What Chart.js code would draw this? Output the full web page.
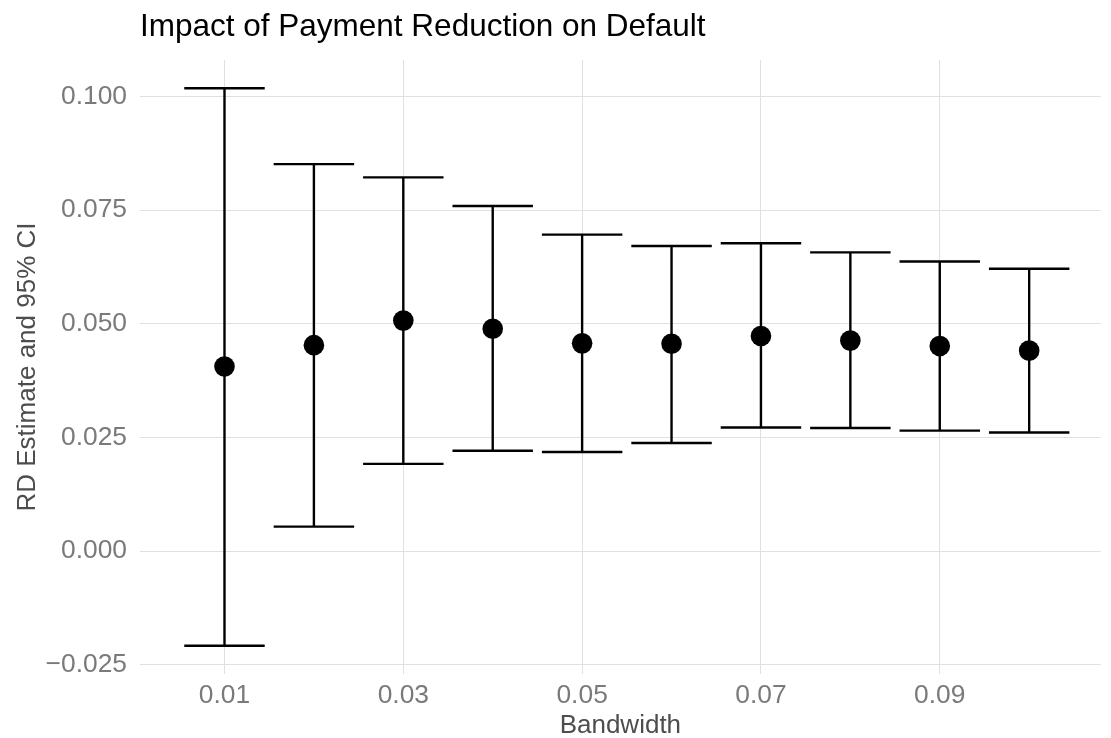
<!DOCTYPE html>
<html><head><meta charset="utf-8">
<script src="https://cdn.jsdelivr.net/npm/chart.js@4.4.1/dist/chart.umd.min.js"></script>
<style>html,body{margin:0;padding:0;background:#fff}#wrap{width:1111px;height:738px}</style>
</head><body><div id="wrap"><canvas id="c" width="1111" height="738"></canvas></div>
<script>
const chartTitle = 'Impact of Payment Reduction on Default';
const xTitle = 'Bandwidth';
const yTitle = 'RD Estimate and 95% CI';
const bandwidth = [0.01, 0.02, 0.03, 0.04, 0.05, 0.06, 0.07, 0.08, 0.09, 0.10];
const estimate  = [0.0406, 0.0453, 0.0507, 0.0489, 0.0457, 0.0456, 0.0473, 0.0463, 0.0451, 0.0441];
const ciLower   = [-0.0208, 0.0054, 0.0192, 0.0221, 0.0218, 0.0238, 0.0272, 0.0271, 0.0265, 0.0261];
const ciUpper   = [0.1018, 0.0851, 0.0822, 0.0759, 0.0696, 0.0671, 0.0677, 0.0657, 0.0637, 0.0621];
const xTickValues = [0.01, 0.03, 0.05, 0.07, 0.09];
const xTickLabels = ['0.01', '0.03', '0.05', '0.07', '0.09'];
const yTickValues = [-0.025, 0, 0.025, 0.05, 0.075, 0.1];
const yTickLabels = ['\u22120.025', '0.000', '0.025', '0.050', '0.075', '0.100'];

const capHalfWidth = 0.0045;
const FONT = "'Liberation Sans', Arial, sans-serif";
const GRID = '#e0e0e0';

const stems = [], caps = [];
bandwidth.forEach((b, i) => {
  stems.push({x: b, y: ciLower[i]}, {x: b, y: ciUpper[i]}, {x: b, y: null});
  caps.push({x: b - capHalfWidth, y: ciUpper[i]}, {x: b + capHalfWidth, y: ciUpper[i]}, {x: b, y: null},
            {x: b - capHalfWidth, y: ciLower[i]}, {x: b + capHalfWidth, y: ciLower[i]}, {x: b, y: null});
});
const points = bandwidth.map((b, i) => ({x: b, y: estimate[i]}));

new Chart(document.getElementById('c'), {
  type: 'line',
  data: {
    datasets: [
      {data: stems, borderColor: '#000', borderWidth: 2.4, pointRadius: 0, spanGaps: false, tension: 0, borderCapStyle: 'butt', order: 3},
      {data: caps, borderColor: '#000', borderWidth: 2.4, pointRadius: 0, spanGaps: false, tension: 0, borderCapStyle: 'butt', order: 2},
      {type: 'scatter', data: points, backgroundColor: '#000', borderWidth: 0, pointRadius: 10.3, pointBorderWidth: 0, order: 1}
    ]
  },
  options: {
    responsive: false,
    animation: false,
    devicePixelRatio: 1,
    layout: {padding: 0},
    plugins: {
      legend: {display: false},
      tooltip: {enabled: false},
      title: {
        display: true, text: chartTitle, align: 'start', fullSize: false,
        color: '#000', font: {family: FONT, size: 31.5, weight: 'normal', lineHeight: 1.2},
        padding: {top: 8, bottom: 14.2}
      }
    },
    scales: {
      x: {
        type: 'linear', min: 0.00055, max: 0.108,
        afterBuildTicks: s => { s.ticks = xTickValues.map(v => ({value: v})); },
        afterFit: s => { s.height = 64; },
        ticks: {callback: (v, i) => xTickLabels[i], color: '#7a7a7a', font: {family: FONT, size: 26.4}, padding: 6, maxRotation: 0, autoSkip: false},
        grid: {color: GRID, lineWidth: 1, drawTicks: false},
        border: {display: false},
        title: {display: true, text: xTitle, color: '#4d4d4d', font: {family: FONT, size: 26, lineHeight: 0.92}, padding: {top: 0, bottom: 0}}
      },
      y: {
        type: 'linear', min: -0.027, max: 0.108,
        afterBuildTicks: s => { s.ticks = yTickValues.map(v => ({value: v})); },
        afterFit: s => { s.width = 140; },
        ticks: {callback: (v, i) => yTickLabels[i], color: '#7a7a7a', font: {family: FONT, size: 26.4}, padding: 13, autoSkip: false},
        grid: {color: GRID, lineWidth: 1, drawTicks: false},
        border: {display: false},
        title: {display: true, text: yTitle, color: '#4d4d4d', font: {family: FONT, size: 26, lineHeight: 1.2}, padding: {top: 12, bottom: 0}}
      }
    }
  }
});
</script></body></html>
